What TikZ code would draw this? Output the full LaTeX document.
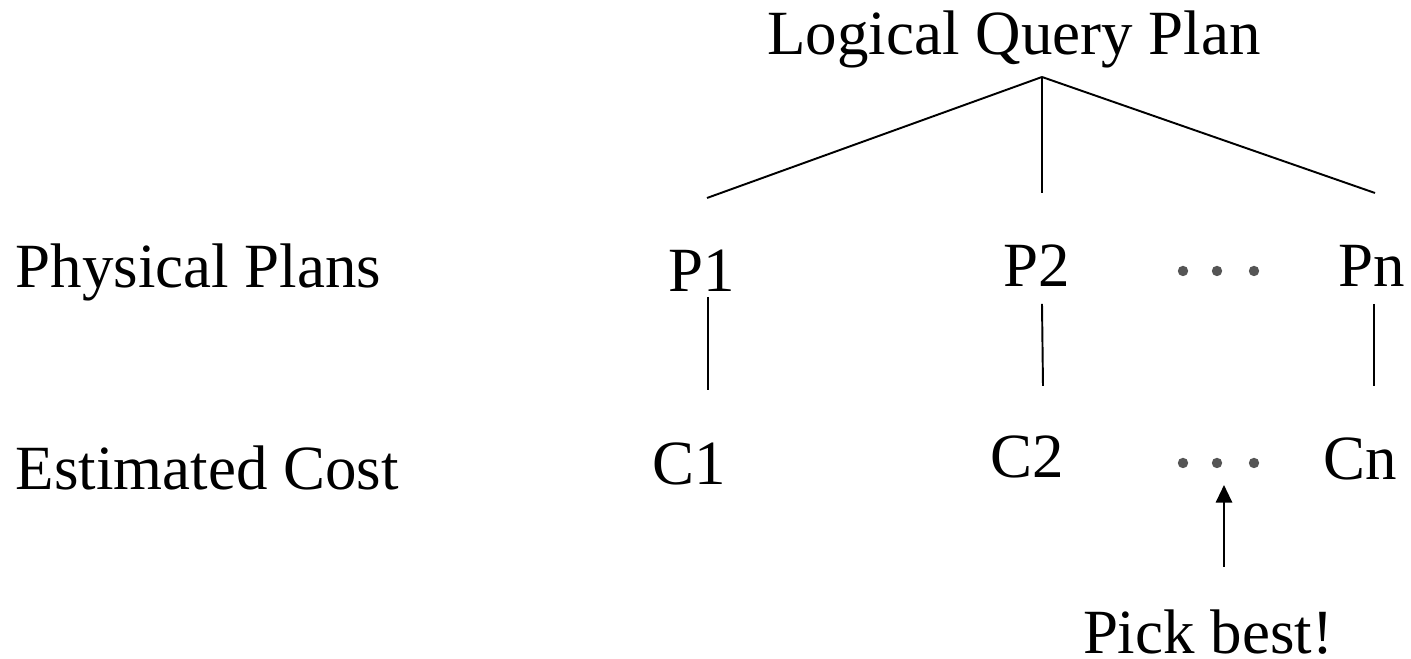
\documentclass[tikz,border=0pt]{standalone}
\usepackage{fontspec}
\setmainfont{Liberation Serif}
\usetikzlibrary{arrows.meta,positioning}

\begin{document}
\begin{tikzpicture}[x=0.01cm, y=-0.01cm]
  % Colores
  \definecolor{dotgray}{RGB}{85, 85, 85}

  % Marco (proporciones de la imagen)
  \useasboundingbox (0,0) rectangle (1411,659);

  % --- Estilos ---
  \tikzset{
    plantext/.style={inner sep=0pt, anchor=base, font=\fontsize{17.9}{20}\selectfont},
    rowlabel/.style={plantext, anchor=base west},
    treeline/.style={line width=0.55pt},
    pickarrow/.style={line width=0.65pt, -{Triangle[length=5pt, width=4.6pt]}}
  }

  % --- Textos ---
  \node[plantext] (lqp) at (1014,55) {Logical Query Plan};
  \node[rowlabel] (phys) at (15,288) {Physical Plans};
  \node[rowlabel] (cost) at (15,490) {Estimated Cost};

  \node[plantext] (p1) at (702,292) {P1};
  \node[plantext] (p2) at (1037,287) {P2};
  \node[plantext] (pn) at (1372,287) {Pn};

  \node[plantext] (c1) at (689,485) {C1};
  \node[plantext] (c2) at (1027,478) {C2};
  \node[plantext] (cn) at (1360,480) {Cn};

  \node[plantext] (pick) at (1208,654) {Pick best!};

  % --- Puntos suspensivos (gris) ---
  \foreach \x in {1183,1217,1254} {
    \fill[dotgray] (\x,271) circle (5.2);
    \fill[dotgray] (\x,463) circle (5.2);
  }

  % --- Extremos de las líneas ---
  \coordinate (apex) at (1042,77);
  \coordinate (p1top) at (707,198);
  \coordinate (p2top) at (1042,193);
  \coordinate (pntop) at (1375,193);
  \coordinate (p1low) at (708,297);
  \coordinate (c1top) at (708,390);
  \coordinate (p2low) at (1042,304);
  \coordinate (c2top) at (1043,386);
  \coordinate (pnlow) at (1374,304);
  \coordinate (cntop) at (1374,386);
  \coordinate (tail) at (1224,567);
  \coordinate (tip) at (1224,485);

  % --- Líneas ---
  \draw[treeline] (apex) -- (p1top);
  \draw[treeline] (apex) -- (p2top);
  \draw[treeline] (apex) -- (pntop);
  \draw[treeline] (p1low) -- (c1top);
  \draw[treeline] (p2low) -- (c2top);
  \draw[treeline] (pnlow) -- (cntop);

  % Flecha hacia el mejor
  \draw[pickarrow] (tail) -- (tip);

\end{tikzpicture}
\end{document}
